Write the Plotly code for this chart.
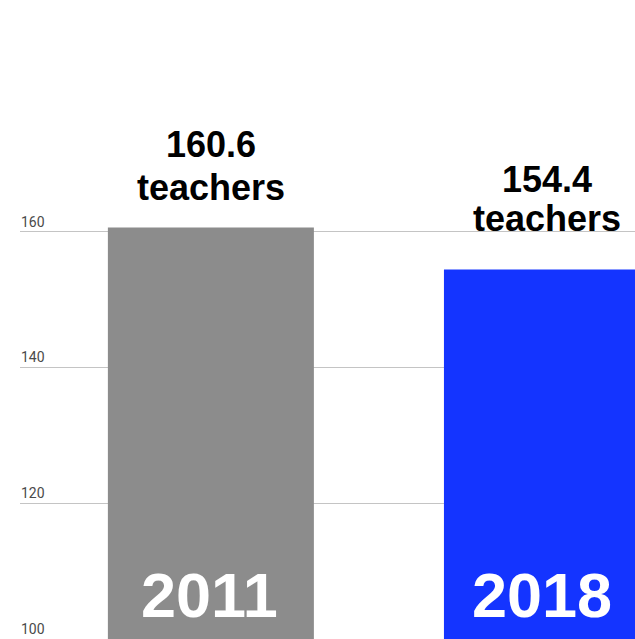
import plotly.graph_objects as go

# Data
years = ["2011", "2018"]
teachers = [160.6, 154.4]
unit_label = "teachers"
tick_values = [100, 120, 140, 160]
tick_labels = ["100", "120", "140", "160"]

# Styling
bar_colors = ["#8c8c8c", "#1434ff"]
value_line_shift = [60, 68]      # px above bar top for the number line
unit_line_shift = [17, 29]       # px above bar top for the unit line
year_x_shift = [-1, -5]          # small horizontal nudge for the in-bar year

positions = list(range(len(years)))

fig = go.Figure()
fig.add_trace(go.Bar(
    x=positions,
    y=teachers,
    width=0.613,
    marker=dict(color=bar_colors, line=dict(width=0)),
    hoverinfo="skip",
))

annotations = []
for i, (yr, val) in enumerate(zip(years, teachers)):
    # value and unit above each bar
    annotations.append(dict(
        x=positions[i], y=val, xref="x", yref="y", text=f"<b>{val}</b>",
        showarrow=False, xanchor="center", yanchor="bottom",
        yshift=value_line_shift[i],
        font=dict(family="Liberation Sans, Arial, sans-serif", size=36, color="#000000"),
    ))
    annotations.append(dict(
        x=positions[i], y=val, xref="x", yref="y", text=f"<b>{unit_label}</b>",
        showarrow=False, xanchor="center", yanchor="bottom",
        yshift=unit_line_shift[i],
        font=dict(family="Liberation Sans, Arial, sans-serif", size=36, color="#000000"),
    ))
    # year printed inside the bar near the bottom
    annotations.append(dict(
        x=positions[i], y=0, xref="x", yref="paper", text=f"<b>{yr}</b>",
        showarrow=False, xanchor="center", yanchor="bottom",
        xshift=year_x_shift[i], yshift=7,
        font=dict(family="Liberation Sans, Arial, sans-serif", size=63, color="#ffffff"),
    ))

# axis labels sitting just above the gridlines
for tv, tl in zip(tick_values, tick_labels):
    annotations.append(dict(
        x=0, y=tv, xref="paper", yref="y", text=tl,
        showarrow=False, xanchor="left", yanchor="bottom",
        xshift=-1, yshift=0,
        font=dict(family="Roboto, sans-serif", size=14, color="#4a4a4a"),
    ))

fig.update_layout(
    width=635, height=639,
    margin=dict(l=20, r=0, t=0, b=0),
    paper_bgcolor="#ffffff",
    plot_bgcolor="#ffffff",
    showlegend=False,
    annotations=annotations,
    xaxis=dict(
        range=[-0.568, 1.262],
        showticklabels=False, showgrid=False, zeroline=False, showline=False,
        fixedrange=True,
    ),
    yaxis=dict(
        range=[100, 194.1],
        tickvals=tick_values[1:],
        showticklabels=False,
        showgrid=True, gridcolor="#c4c4c4", gridwidth=1,
        zeroline=False, showline=False,
        fixedrange=True,
    ),
)

fig.write_html("out.html", config={"displayModeBar": False})
